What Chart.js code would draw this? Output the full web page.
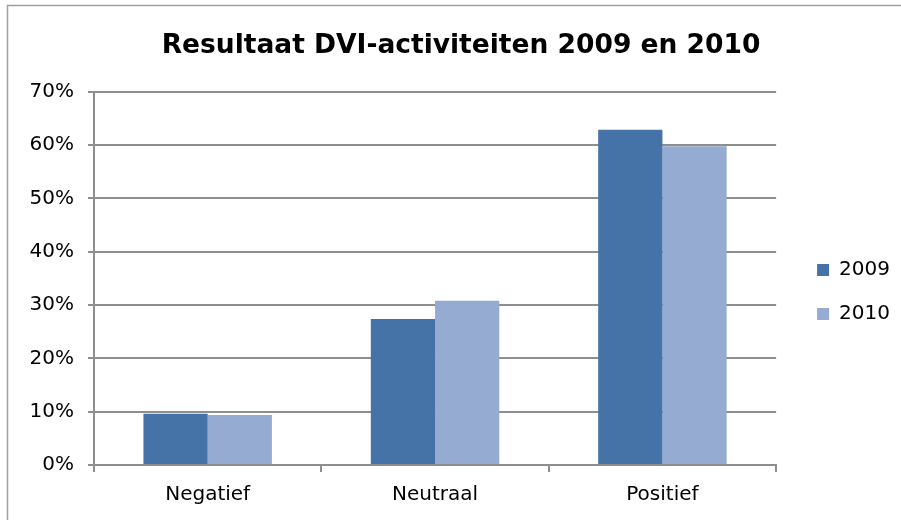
<!DOCTYPE html>
<html>
<head>
<meta charset="utf-8">
<script src="https://cdn.jsdelivr.net/npm/chart.js@4.4.0/dist/chart.umd.min.js"></script>
<style>
    html, body { margin: 0; background: #fff; }
    #wrap { width: 901px; height: 520px; }
</style>
</head>
<body>
<div id="wrap"><canvas id="myChart" width="901" height="520"></canvas></div>
<script>
const categories = ['Negatief', 'Neutraal', 'Positief'];
const seriesNames = ['2009', '2010'];
const values2009 = [9.6, 27.4, 62.9];
const values2010 = [9.4, 30.8, 59.8];
const yMax = 70;
const yStep = 10;

Chart.defaults.font.family = "'DejaVu Sans', Verdana, sans-serif";
Chart.defaults.color = '#000';

// grey frame round the chart (only top and left edge are visible in the original)
const framePlugin = {
    id: 'frame',
    beforeDraw(chart) {
        const ctx = chart.ctx;
        ctx.save();
        ctx.fillStyle = '#fff';
        ctx.fillRect(0, 0, chart.width, chart.height);
        ctx.strokeStyle = '#a0a0a0';
        ctx.lineWidth = 1.5;
        ctx.beginPath();
        ctx.moveTo(7.5, chart.height);
        ctx.lineTo(7.5, 5.5);
        ctx.lineTo(chart.width, 5.5);
        ctx.stroke();
        ctx.restore();
    }
};

// nudge legend and title a bit, like Excel places them
const layoutShift = {
    id: 'layoutShift',
    afterLayout(chart) {
        const lg = chart.legend;
        if (lg) {
            lg.left += 17; lg.right += 17;
            lg.top += 33; lg.bottom += 33;
        }
        const tb = chart.titleBlock;
        if (tb) {
            tb.left += 9; tb.right += 9;
        }
    }
};

const ctx = document.getElementById('myChart').getContext('2d');

new Chart(ctx, {
    type: 'bar',
    data: {
        labels: categories,
        datasets: [
            {
                label: seriesNames[0],
                data: values2009,
                backgroundColor: '#4572a7',
                borderWidth: 0,
                categoryPercentage: 0.565,
                barPercentage: 1.0
            },
            {
                label: seriesNames[1],
                data: values2010,
                backgroundColor: '#95abd1',
                borderWidth: 0,
                categoryPercentage: 0.565,
                barPercentage: 1.0
            }
        ]
    },
    options: {
        responsive: false,
        animation: false,
        layout: {
            padding: { left: 21, right: 18, top: 0, bottom: 2 }
        },
        plugins: {
            title: {
                display: true,
                text: 'Resultaat DVI-activiteiten 2009 en 2010',
                font: { size: 26.5, weight: 'bold' },
                color: '#000',
                padding: { top: 30, bottom: 30 }
            },
            legend: {
                position: 'right',
                labels: {
                    boxWidth: 12,
                    boxHeight: 12,
                    padding: 24,
                    font: { size: 20 },
                    color: '#000'
                }
            },
            tooltip: { enabled: false }
        },
        scales: {
            x: {
                grid: {
                    display: true,
                    drawOnChartArea: false,
                    drawTicks: true,
                    tickLength: 7,
                    color: '#8e8e8e',
                    lineWidth: 2
                },
                border: { display: true, color: '#8e8e8e', width: 2 },
                ticks: {
                    font: { size: 20 },
                    color: '#000',
                    padding: 11
                }
            },
            y: {
                min: 0,
                max: yMax,
                afterFit(scale) { scale.width = 73; },
                grid: {
                    color: '#8e8e8e',
                    lineWidth: 2,
                    drawTicks: true,
                    tickLength: 6
                },
                border: { display: true, color: '#8e8e8e', width: 2 },
                ticks: {
                    stepSize: yStep,
                    font: { size: 20 },
                    color: '#000',
                    padding: 14,
                    callback: v => v + '%'
                }
            }
        }
    },
    plugins: [framePlugin, layoutShift]
});
</script>
</body>
</html>
